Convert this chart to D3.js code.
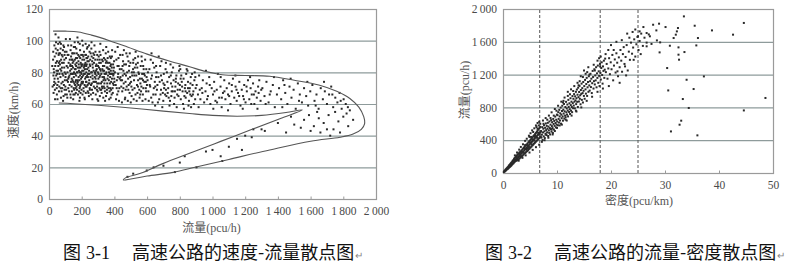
<!DOCTYPE html>
<html>
<head>
<meta charset="utf-8">
<script src="https://cdn.jsdelivr.net/npm/d3@7"></script>
<style>
  body { margin: 0; background: #fff; }
  text { font-family: "Liberation Serif", "Noto Sans CJK SC", serif; }
</style>
</head>
<body>
<svg id="chart" width="798" height="268"></svg>
<script>
// ---- ticks ----
var speedTicks = [0, 20, 40, 60, 80, 100, 120];
var flowTicks = [0, 200, 400, 600, 800, 1000, 1200, 1400, 1600, 1800, 2000];
var flowTicks2 = [0, 400, 800, 1200, 1600, 2000];
var densityTicks = [0, 10, 20, 30, 40, 50];
var densityMarks = [6.8, 18, 25];   // dashed vertical lines

// ---- fig 3-1: speed vs flow, [flow, speed] ----
var speedFlowPts = [
  [25,88],[32,74],[41,95],[28,67],[55,81],[62,92],[47,70],[38,84],[70,77],[66,99],[52,63],[80,86],[91,72],[85,94],[77,68],[96,80],[104,89],[110,75],[58,102],[44,78],[35,90],[29,82],[73,64],[88,97],[99,66],[115,83],[63,71],[49,87],[82,79],[107,93],[118,70],[54,76],[36,69],[67,85],[94,88],[112,64],[76,73],[43,99],[59,91],[86,62],[101,77],[120,86],[31,80],[71,95],[48,66],[93,83],[64,79],[117,97],[39,73],[83,90],[105,69],[57,84],[26,93],[97,75],[74,88],[113,80],[51,72],[89,65],[68,92],[46,81],[103,101],[79,83],[34,76],[61,68],[92,96],[116,74],[42,86],[87,78],[56,98],[108,84],[72,70],[95,91],[40,104],[65,87],[100,71],[27,78],[84,74],[119,91],[53,94],[75,81],
  [125,78],[131,85],[138,71],[142,92],[149,66],[153,80],[158,88],[162,74],[167,95],[171,69],[176,83],[181,77],[185,90],[189,64],[194,86],[198,73],[203,81],[207,97],[212,68],[216,84],[221,76],[226,91],[230,71],[235,87],[239,79],[244,65],[248,93],[127,88],[133,64],[136,97],[144,75],[147,83],[151,70],[156,92],[160,79],[164,67],[169,86],[173,73],[178,99],[183,81],[187,70],[191,89],[196,76],[200,84],[205,66],[209,78],[214,93],[218,72],[223,86],[228,80],[232,95],[237,68],[241,83],[246,75],[129,81],[135,90],[140,68],[146,79],[150,87],[155,73],[159,96],[163,82],[168,71],[172,89],[177,66],[182,85],[186,75],[190,94],[195,80],[199,69],[204,88],[208,74],[213,83],[217,64],[222,91],[227,77],[231,85],[236,72],[240,90],[245,81],[249,70],[126,72],[132,94],[137,82],[143,88],[148,74],[152,96],[157,66],[161,85],[166,78],[170,92],[175,75],[180,87],[184,68],[188,80],[193,72],[197,91],[202,77],[206,85],[211,70],[215,88],[220,82],[225,67],[229,74],[234,89],[238,77],[243,87],[247,79],[128,101],[139,76],[145,86],[154,69],[165,89],[174,80],[179,72],[192,83],[201,74],[210,90],[219,79],[233,82],[242,73],[134,79],[141,84],[174,102],[188,98],[224,98],[131,66],[157,99],[203,100],[236,96],[148,63],[186,62],[219,63],[245,97],[166,84],[199,79],[227,84],
  [252,84],[257,72],[261,90],[266,78],[270,67],[275,86],[279,74],[284,93],[288,81],[293,69],[297,88],[302,76],[306,83],[311,65],[315,91],[320,79],[324,71],[329,87],[333,75],[338,84],[342,68],[347,92],[351,80],[356,73],[360,86],[365,70],[369,82],[374,77],[378,89],[383,66],[387,79],[392,85],[396,72],[254,77],[259,95],[263,69],[268,83],[272,74],[277,91],[281,80],[286,66],[290,85],[295,73],[299,80],[304,90],[308,70],[313,78],[317,86],[322,67],[326,82],[331,94],[335,71],[340,79],[344,88],[349,65],[353,83],[358,76],[362,93],[367,80],[371,68],[376,84],[380,74],[385,90],[389,70],[394,81],[398,87],[256,66],[264,87],[273,81],[282,70],[291,78],[300,84],[309,93],[318,73],[327,77],[336,89],[345,75],[354,69],[363,82],[372,90],[381,79],[390,67],[399,76],[260,99],[278,97],[296,63],[314,98],[332,64],[350,96],[368,63],[386,94],[258,80],[271,89],[285,76],[298,68],[312,82],[325,88],[339,73],[352,87],[366,75],[379,85],[393,78],[262,73],[287,84],[303,79],[319,69],[337,81],[357,71],[373,79],[391,73],[265,63],[301,62],[343,62],[377,64],[255,92],[283,88],[307,86],[330,84],[359,89],[384,83],[267,76],[294,71],[323,74],[348,79],[375,70],[397,83],
  [22,71],[37,63],[45,92],[58,74],[69,82],[81,70],[90,86],[102,79],[114,91],[123,68],[135,74],[146,92],[152,77],[163,70],[171,80],[179,91],[190,71],[197,85],[206,73],[215,79],[224,71],[233,78],[241,67],[252,88],[262,80],[274,71],[283,79],[295,91],[305,73],[316,81],[327,70],[339,76],[348,86],[361,78],[372,73],[385,76],[20,84],[33,97],[60,86],[78,91],[95,69],[109,66],[121,77],[139,88],[158,82],[176,74],[193,67],[211,81],[229,89],[247,73],[266,85],[287,74],[309,77],[331,81],[355,67],[378,81],[400,74],[423,79],[447,75],[471,78],[495,73],[519,80],[544,71],[568,76],[592,74],[30,72],[50,79],[73,98],[97,93],[118,76],[142,79],[165,75],[185,83],[206,91],[226,74],[249,85],[271,92],[292,82],[314,69],[336,77],[358,83],[380,69],[130,84],[160,72],[190,78],[220,85],[250,69],[280,77],[310,88],[340,70],[370,86],[395,79],[425,89],[455,81],[485,69],[515,86],[545,90],[575,75],[625,76],[655,84],[685,78],[715,69],[745,78],[775,74],[805,76],[835,68],[865,73],[895,77],
  [403,80],[408,72],[412,88],[417,66],[421,77],[426,84],[430,70],[435,91],[439,75],[444,82],[448,68],[453,87],[457,73],[462,79],[466,64],[471,85],[475,71],[480,90],[484,76],[489,81],[493,67],[498,86],[502,74],[507,80],[511,69],[516,88],[520,75],[525,83],[529,66],[534,78],[538,72],[543,86],[547,80],[552,69],[556,76],[561,84],[565,71],[570,79],[574,66],[579,82],[583,74],[588,88],[592,70],[597,77],[405,93],[415,75],[424,68],[433,82],[442,71],[451,78],[460,85],[469,69],[478,80],[487,72],[496,77],[505,65],[514,82],[523,70],[532,85],[541,67],[550,79],[559,73],[568,87],[577,70],[586,78],[595,82],[410,63],[428,62],[446,61],[464,63],[482,62],[500,61],[518,63],[536,62],[554,64],[572,62],[590,63],[419,84],[437,77],[455,70],[473,92],[491,84],[509,78],[527,89],[545,75],[563,68],[581,79],[599,72],[414,70],[432,76],[450,84],[468,74],[486,87],[504,71],[522,78],[540,83],[558,66],[576,84],[594,68],[420,96],[458,94],[494,92],[530,93],[566,90],[450,91],
  [603,75],[608,68],[614,82],[619,71],[625,64],[630,78],[636,86],[641,70],[647,74],[652,66],[658,80],[663,72],[669,77],[674,63],[680,84],[685,69],[691,75],[696,67],[702,79],[707,72],[713,82],[718,65],[724,74],[729,70],[735,77],[740,62],[746,73],[751,80],[757,68],[762,75],[768,64],[773,71],[779,78],[784,66],[790,73],[795,81],[801,69],[806,63],[812,74],[817,68],[823,76],[828,65],[834,72],[839,79],[845,67],[850,74],[856,62],[861,70],[867,77],[872,65],[878,72],[883,68],[889,75],[894,63],[610,62],[622,88],[633,61],[644,83],[655,77],[666,61],[677,74],[688,87],[699,62],[710,66],[721,80],[732,64],[743,85],[754,71],[765,60],[776,76],[787,69],[798,84],[809,78],[820,60],[831,70],[842,82],[853,59],[864,66],[875,79],[886,60],[897,70],[616,72],[638,66],[660,69],[682,66],[704,70],[726,67],[748,65],[770,68],[792,65],[814,71],[836,64],[858,68],[880,66],[627,92],[671,90],[715,86],[759,83],[803,82],[847,81],[891,80],[649,59],[693,58],[737,59],[781,58],[825,57],[869,58],[605,80],[650,71],[700,73],[750,68],[800,72],[850,70],
  [903,72],[911,66],[918,78],[926,63],[934,70],[941,75],[949,61],[957,68],[964,73],[972,65],[980,77],[987,60],[995,70],[1003,66],[1010,74],[1018,62],[1026,69],[1033,79],[1041,64],[1049,71],[1056,58],[1064,67],[1072,75],[1079,63],[1087,70],[1095,66],[1102,73],[1110,60],[1118,68],[1125,76],[1133,64],[1141,71],[1148,62],[1156,67],[1164,74],[1171,59],[1179,69],[1187,65],[1194,72],[1202,61],[1210,68],[1217,75],[1225,63],[1233,70],[1240,66],[1248,73],[1256,60],[1263,68],[1271,64],[1279,71],[1286,75],[1294,62],[915,58],[960,81],[1005,57],[1050,77],[1095,56],[1140,78],[1185,57],[1230,77],[1275,57],[938,67],[983,72],[1028,61],[1073,68],[1118,72],[1163,65],[1208,71],[1253,66],[1298,69],[922,69],[967,63],[1012,68],[1057,64],[1102,65],[1147,69],[1192,63],[1237,60],[1282,67],
  [1305,70],[1318,65],[1330,74],[1343,61],[1356,68],[1369,72],[1381,58],[1394,66],[1407,70],[1420,63],[1432,75],[1445,67],[1458,60],[1471,71],[1483,64],[1496,69],[1509,57],[1522,73],[1534,66],[1547,61],[1560,70],[1573,65],[1585,59],[1598,68],[1611,72],[1624,62],[1636,66],[1649,57],[1662,70],[1675,63],[1687,68],[1700,60],[1713,66],[1726,71],[1738,58],[1751,64],[1764,61],[1777,67],[1790,57],[1802,63],[1815,60],[1828,58],[1840,56],[1325,60],[1376,77],[1427,58],[1478,76],[1529,62],[1580,74],[1631,59],[1682,74],[1733,66],[1784,62],[1350,66],[1440,72],
  [1560,50],[1590,53],[1620,46],[1650,51],[1680,48],[1710,53],[1740,44],[1770,49],[1800,52],[1830,46],[1600,43],[1660,42],[1720,40],[1780,42],[1860,50],[1540,45],[1500,47],[1450,42],[1400,48],[1480,52],[1640,55],[1700,44],[1750,55],[1820,54],[1300,44],[1240,39],
  [515,16],[598,18],[640,20],[770,17],[800,23],[902,20],[830,27],[960,30],[1000,31],[1050,27],[1100,33],[1150,38],[1180,31],[1060,24],[700,21],[1200,40],[1320,43],[1250,44],[480,14]
];
var speedFlowEnvelope = [
  [25,106],[100,106],[180,105.5],[260,103.5],[370,100],[480,96],[600,91.5],[740,87],[860,83.5],[960,80.5],[1060,78.5],[1200,78],[1350,77.5],[1500,75],[1650,72],[1760,68],[1840,63.5],[1895,58],[1925,52],[1930,47.5],[1910,44],[1860,41],[1780,39],[1600,36.5],[1350,31],[1100,25],[900,20.2],[760,16.8],[600,14.5],[500,12.6],[455,12],[470,13.5],[560,16.2],[700,22.5],[860,28.9],[1050,36.4],[1250,44.3],[1420,51],[1550,56.3],[1450,54.6],[1300,52.8],[1150,52.3],[1000,52.8],[860,54],[700,55.5],[500,57.5],[300,59.2],[150,60.2],[60,60.6]
];

// ---- fig 3-2: flow vs density, [density, flow] ----
var flowDensityPts = [
  [0.15,12],[0.22,20],[0.3,18],[0.35,31],[0.42,26],[0.48,40],[0.55,33],[0.6,50],[0.66,41],[0.72,58],[0.78,47],[0.83,66],[0.9,52],[0.95,75],[1.02,60],[1.08,88],[1.12,68],[1.18,96],[1.25,74],[1.3,104],[1.35,82],[1.4,112],[1.46,88],[1.52,122],[1.57,95],[1.62,130],[1.68,104],[1.73,140],[1.78,112],[1.83,150],[1.9,118],[1.95,158],[2.0,126],[2.05,170],[2.1,135],[2.15,182],[2.2,141],[2.26,160],[2.3,190],[2.36,148],[2.42,205],[2.47,170],[2.52,152],[2.58,215],[2.63,180],[2.68,160],[2.74,228],[2.8,195],[2.85,168],[2.9,240],[2.96,206],[3.02,175],[3.07,252],[3.12,218],[3.18,186],[3.24,262],[3.29,230],[3.34,198],[3.4,272],[3.45,240],[3.5,206],[3.56,285],[3.61,252],[3.66,215],[3.72,298],[3.77,262],[3.82,226],[3.88,310],[3.93,275],[3.98,238],[4.04,322],[4.09,288],[4.14,245],[4.2,335],[4.25,298],[4.3,258],[4.36,346],[4.41,310],[4.46,268],[4.52,358],[4.57,322],[4.62,278],[4.68,372],[4.73,335],[4.78,290],[4.84,385],[4.89,345],[4.94,300],[5.0,396],[5.05,358],[5.1,312],[5.16,410],[5.21,370],[5.26,322],[5.32,422],[5.37,382],[5.42,335],[5.48,436],[5.53,395],[5.58,345],[5.64,450],[5.69,406],[5.74,358],[5.8,462],[5.85,418],[5.9,368],[5.96,476],[6.01,430],[6.06,380],[6.12,490],[6.17,442],[6.22,392],[6.28,505],[6.33,455],[6.38,402],[6.44,520],[6.49,466],[6.54,415],[6.6,535],[6.65,478],[6.7,425],[6.76,548],[6.81,490],[6.86,436],[6.92,562],[6.97,500],[7.0,445],[2.5,190],[3.0,232],[3.5,262],[4.0,300],[4.5,340],[5.0,372],[5.5,410],[6.0,455],[6.5,490],[2.0,150],[1.5,110],[3.2,205],[3.8,248],[4.3,290],[4.8,318],[5.3,350],[5.8,395],[6.3,430],[6.8,470],[5.6,500],[6.2,560],[4.9,440],[6.6,580],
  [2.2,215],[2.6,250],[3.0,285],[3.3,318],[3.7,350],[4.1,392],[4.4,418],[4.8,455],[5.1,485],[5.4,520],[5.8,545],[6.1,580],[6.4,610],[6.7,625],[2.9,150],[3.6,185],[4.2,215],[4.9,250],[5.5,282],[6.1,315],[6.7,345],[7.2,380],[3.3,250],[4.6,300],[5.9,440],[6.4,540],[4.1,340],[5.2,440],[6.9,600],
  [7.05,512],[7.12,431],[7.2,468],[7.28,559],[7.33,402],[7.41,495],[7.47,540],[7.55,447],[7.6,583],[7.68,509],[7.74,426],[7.8,551],[7.86,478],[7.93,604],[7.99,523],[8.04,462],[8.1,575],[8.17,496],[8.23,540],[8.3,612],[8.36,451],[8.42,566],[8.49,520],[8.55,490],[8.6,628],[8.67,548],[8.73,470],[8.8,590],[8.86,535],[8.92,645],[8.98,505],[9.05,572],[9.1,620],[9.17,548],[9.23,488],[9.3,660],[9.36,598],[9.42,530],[9.49,635],[9.55,575],[9.6,512],[9.67,688],[9.73,610],[9.8,556],[9.86,650],[9.92,590],[9.98,712],[9.4,700],[8.2,650],[7.5,600],[9.0,530],[8.0,470],
  [7.4,640],[7.9,670],[8.5,700],[9.0,740],[9.6,780],[10.2,820],[10.8,870],[11.4,920],[12.0,990],[12.6,1020],[13.2,1060],[13.8,1100],[14.4,1180],[15.0,1250],[15.8,1290],[7.7,400],[8.4,430],[9.2,470],[10.0,550],[10.9,590],[11.8,640],[12.7,700],[13.6,750],[14.5,800],[15.5,880],[16.5,930],[17.5,990],[18.5,1030],[8.8,670],[9.9,760],[11.1,860],[13.0,1000],[14.0,1070],[16.0,1200],[17.0,1250],[18.0,1300],
  [10.04,628],[10.1,705],[10.17,582],[10.23,742],[10.3,660],[10.36,615],[10.42,770],[10.5,690],[10.55,640],[10.6,728],[10.68,798],[10.74,602],[10.8,712],[10.86,668],[10.92,756],[10.98,820],[11.05,690],[11.1,638],[11.17,772],[11.23,725],[11.3,842],[11.36,664],[11.42,752],[11.5,700],[11.55,805],[11.6,680],[11.68,868],[11.74,740],[11.8,788],[11.86,712],[11.92,835],[11.98,762],[12.05,690],[12.1,892],[12.17,805],[12.23,745],[12.3,850],[12.36,778],[12.42,720],[12.5,912],[12.55,828],[12.6,760],[12.68,870],[12.74,805],[12.8,742],[12.86,938],[12.92,852],[12.98,790],[11.2,880],[12.0,940],[10.5,580],[11.6,650],[12.4,960],
  [13.04,905],[13.1,822],[13.17,962],[13.23,870],[13.3,788],[13.36,935],[13.42,885],[13.5,990],[13.55,840],[13.6,912],[13.68,1018],[13.74,868],[13.8,955],[13.86,805],[13.92,1040],[13.98,925],[14.05,872],[14.1,988],[14.17,1062],[14.23,905],[14.3,948],[14.36,838],[14.42,1012],[14.5,965],[14.55,1090],[14.6,892],[14.68,1035],[14.74,975],[14.8,860],[14.86,1110],[14.92,1002],[14.98,940],[15.05,1060],[15.12,905],[15.2,1135],[15.28,1020],[15.35,968],[15.42,1085],[15.5,1160],[15.58,940],[15.66,1045],[15.74,1110],[15.82,990],[15.9,1180],[15.98,1068],[14.2,1120],[15.3,1210],[13.5,760],[14.8,1170],[15.6,1230],
  [16.05,1005],[16.13,1120],[16.2,1210],[16.28,1048],[16.36,1150],[16.44,975],[16.52,1095],[16.6,1245],[16.68,1170],[16.76,1030],[16.84,1120],[16.92,1265],[17.0,1080],[17.08,1190],[17.16,1130],[17.24,1290],[17.32,1045],[17.4,1215],[17.48,1160],[17.56,1310],[17.64,1100],[17.72,1240],[17.8,1185],[17.88,1060],[17.96,1330],[18.04,1220],[18.12,1140],[18.2,1280],[18.28,1350],[18.36,1195],[18.44,1090],[18.52,1300],[18.6,1245],[18.68,1370],[18.76,1160],[18.84,1260],[18.92,1395],[17.5,1370],[16.8,1320],[18.1,1420],
  [17.8,1400],[19.0,1450],[20.5,1500],[21.0,1600],[22.0,1620],[23.0,1700],[24.5,1750],[26.0,1780],[19.5,1500],[21.2,1240],[22.6,1300],[24.2,1380],
  [19.05,1230],[19.2,1330],[19.35,1150],[19.5,1275],[19.65,1400],[19.8,1205],[19.95,1350],[20.1,1265],[20.25,1440],[20.4,1130],[20.55,1310],[20.7,1385],[20.85,1225],[21.0,1460],[21.15,1345],[21.3,1180],[21.45,1410],[21.6,1290],[21.75,1500],[21.9,1370],[22.05,1235],[22.2,1450],[22.35,1535],[22.5,1330],[22.7,1415],[22.9,1560],[23.1,1250],[23.3,1480],[23.5,1380],[23.7,1590],[23.9,1455],[24.1,1530],[24.3,1630],[24.5,1420],[24.7,1570],[24.9,1660],[25.1,1500],[25.3,1610],[25.6,1700],[25.9,1550],[26.2,1650],[26.6,1590],[27.0,1690],[20.0,1560],[21.6,1100],[22.8,1190],[24.0,1720],[25.5,1450],[19.6,1060],[23.4,1650],
  [33.5,1910],[44.6,1830],[35.5,1796],[38.7,1739],[42.6,1687],[36.1,1646],[35.8,1556],[32.5,1532],[32.5,1443],[32.6,1382],[33.6,1475],[29.0,1471],[30.4,1280],[37.2,1178],[34.0,1137],[30.6,1007],[35.3,1024],[48.6,915],[33.3,902],[34.4,793],[44.6,763],[33.0,638],[32.7,589],[31.1,507],[36.0,459],[27.8,1808],[28.9,1821],[30.1,1780],[32.4,1768],[32.2,1727],[32.0,1687],[31.6,1646],[30.9,1552],[29.1,1593],[28.4,1739],[26.6,1707],[27.2,1667],[28.5,1617],[26.6,1545],[27.5,1574],[25.3,1727],[25.0,1667]
];

// ---- captions ----
var captions = [
  { num: "3-1", title: "高速公路的速度-流量散点图" },
  { num: "3-2", title: "高速公路的流量-密度散点图" }
];

var svg = d3.select("#chart");
var gridColor = "#8e9b9b", frameColor = "#9a9a9a", tickColor = "#4a4a4a", dotColor = "#2a2a2a";
var dot = 2.0;

// thousands separated by a thin space, as in the print
function fmt(v) {
  if (v < 1000) return String(v);
  return Math.floor(v / 1000) + "\u2009" + String(v % 1000).padStart(3, "0");
}

function drawPanel(cfg) {
  var x = d3.scaleLinear().domain(cfg.xDomain).range([cfg.left, cfg.right]);
  var y = d3.scaleLinear().domain(cfg.yDomain).range([cfg.bottom, cfg.top]);
  var g = svg.append("g");

  // horizontal grid lines
  g.append("g").selectAll("line").data(cfg.yTicks.slice(1, -1)).join("line")
    .attr("x1", cfg.left).attr("x2", cfg.right)
    .attr("y1", function(d) { return y(d) + 0.5; }).attr("y2", function(d) { return y(d) + 0.5; })
    .attr("stroke", gridColor).attr("stroke-width", 1.2);

  // frame
  g.append("rect")
    .attr("x", cfg.left + 0.5).attr("y", cfg.top + 0.5)
    .attr("width", cfg.right - cfg.left).attr("height", cfg.bottom - cfg.top)
    .attr("fill", "none").attr("stroke", frameColor).attr("stroke-width", 1.2);

  // x axis: short ticks pointing inward
  var xAxis = g.append("g").attr("transform", "translate(0," + (cfg.bottom + 0.5) + ")")
    .call(d3.axisBottom(x).tickValues(cfg.xTicks).tickSize(-3).tickPadding(7).tickFormat(fmt));
  xAxis.select(".domain").remove();
  xAxis.selectAll("line").attr("stroke", frameColor);
  xAxis.selectAll("text").attr("font-size", 11.5).attr("fill", tickColor)
    .attr("font-family", "Liberation Serif");

  var yAxis = g.append("g").attr("transform", "translate(" + cfg.left + ",0)")
    .call(d3.axisLeft(y).tickValues(cfg.yTicks).tickSize(0).tickPadding(6).tickFormat(fmt));
  yAxis.select(".domain").remove();
  yAxis.selectAll("text").attr("font-size", 11.5).attr("fill", tickColor)
    .attr("font-family", "Liberation Serif");

  // axis titles
  g.append("text").attr("x", (cfg.left + cfg.right) / 2 + cfg.xTitleShift).attr("y", cfg.xTitleY)
    .attr("text-anchor", "middle").attr("font-size", 12).attr("fill", "#555").text(cfg.xTitle);
  g.append("text").attr("transform", "translate(" + cfg.yTitleX + "," + cfg.yTitleY + ") rotate(-90)")
    .attr("text-anchor", "middle").attr("font-size", 12).attr("fill", "#555").text(cfg.yTitle);

  return { g: g, x: x, y: y };
}

// ---- left panel ----
var p1 = drawPanel({
  left: 49, right: 376, top: 9, bottom: 199,
  xDomain: [0, 2000], yDomain: [0, 120], xTicks: flowTicks, yTicks: speedTicks,
  xTitle: "流量(pcu/h)", xTitleY: 232, xTitleShift: -1,
  yTitle: "速度(km/h)", yTitleX: 18, yTitleY: 110
});
p1.g.append("g").selectAll("rect").data(speedFlowPts).join("rect")
  .attr("x", function(d) { return p1.x(d[0]) - dot / 2; })
  .attr("y", function(d) { return p1.y(d[1]) - dot / 2; })
  .attr("width", dot).attr("height", dot).attr("fill", dotColor);
p1.g.append("path").datum(speedFlowEnvelope)
  .attr("d", d3.line().x(function(d) { return p1.x(d[0]); }).y(function(d) { return p1.y(d[1]); })
    .curve(d3.curveCatmullRom.alpha(0.5)))
  .attr("fill", "none").attr("stroke", "#555").attr("stroke-width", 1.1);

// ---- right panel ----
var p2 = drawPanel({
  left: 503, right: 773, top: 9, bottom: 173,
  xDomain: [0, 50], yDomain: [0, 2000], xTicks: densityTicks, yTicks: flowTicks2,
  xTitle: "密度(pcu/km)", xTitleY: 205, xTitleShift: 1,
  yTitle: "流量(pcu/h)", yTitleX: 469, yTitleY: 90
});
p2.g.append("g").selectAll("line").data(densityMarks).join("line")
  .attr("x1", function(d) { return p2.x(d); }).attr("x2", function(d) { return p2.x(d); })
  .attr("y1", 10).attr("y2", 173)
  .attr("stroke", "#555").attr("stroke-width", 1).attr("stroke-dasharray", "3,2");
p2.g.append("g").selectAll("rect").data(flowDensityPts).join("rect")
  .attr("x", function(d) { return p2.x(d[0]) - dot / 2; })
  .attr("y", function(d) { return p2.y(d[1]) - dot / 2; })
  .attr("width", dot).attr("height", dot).attr("fill", dotColor);

// ---- captions ----
var capX = [63, 485];
captions.forEach(function(c, i) {
  var t = svg.append("text").attr("x", capX[i]).attr("y", 259).attr("font-size", 18).attr("fill", "#111");
  t.append("tspan").attr("font-family", "Noto Sans CJK SC").text("图");
  t.append("tspan").attr("dx", 5).attr("font-family", "Liberation Serif").text(c.num);
  t.append("tspan").attr("dx", 22).attr("font-family", "Noto Sans CJK SC").text(c.title);
  t.append("tspan").attr("dx", 1).attr("font-size", 10).attr("fill", "#888").text("\u21b5");
});
</script>
</body>
</html>
